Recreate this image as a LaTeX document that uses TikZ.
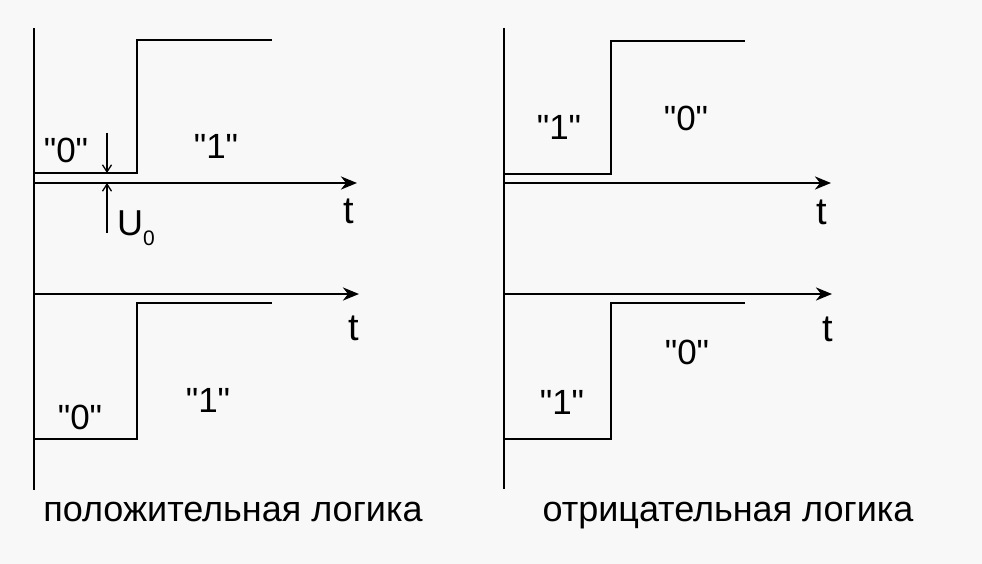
\documentclass[tikz,border=0pt]{standalone}
\usepackage{fontspec}
\setmainfont{Liberation Sans}
\newfontfamily\qfont{Liberation Sans}[Ligatures=TeXOff]
\usetikzlibrary{arrows.meta}
\definecolor{bgc}{HTML}{F8F8F8}
\newcommand\qlab[1]{{\qfont"#1"}}
\begin{document}
\begin{tikzpicture}[x=1pt,y=-1pt,
  axis/.style={line width=2.8pt},
  taxis/.style={line width=2.6pt,-{Stealth[length=16pt,width=13pt,inset=5pt]}},
  sig/.style={line width=2.2pt},
  lab/.style={font=\fontsize{35}{40}\selectfont, inner sep=0pt},
  tlab/.style={font=\fontsize{38}{42}\selectfont, inner sep=0pt},
  capt/.style={font=\fontsize{36}{42}\selectfont, inner sep=0pt, anchor=base},
  dim/.style={line width=1.3pt,-{Straight Barb[length=7pt,width=9pt]}}]
\fill[bgc] (0,0) rectangle (982,564);
\useasboundingbox (0,0) rectangle (982,564);

% ---------- left panel ----------
\coordinate (LAt) at (34,28);
\coordinate (LAb) at (34,490);
\draw[axis] (LAt) -- (LAb);

% upper
\coordinate (L1o) at (34,183);
\coordinate (L1e) at (357,183);
\draw[taxis] (L1o) -- (L1e);
\node[tlab] (Lt1) at (349,211) {t};
\coordinate (Ls1) at (34,173);
\coordinate (Ls2) at (137,173);
\coordinate (Ls3) at (137,40);
\coordinate (Ls4) at (272,40);
\draw[sig] (Ls1) -- (Ls2) -- (Ls3) -- (Ls4);
\node[lab] (L0a) at (66,150) {\qlab{0}};
\node[lab] (L1a) at (216,146) {\qlab{1}};
\coordinate (Ua) at (107,133);
\coordinate (Ub) at (107,173);
\coordinate (Uc) at (107,183);
\coordinate (Ud) at (107,233);
\draw[dim] (Ua) -- (Ub);
\draw[dim] (Ud) -- (Uc);
\node[capt,anchor=base west] (U0) at (117,235) {U\raisebox{-10pt}{\fontsize{21}{24}\selectfont 0}};

% lower
\coordinate (L2o) at (34,294);
\coordinate (L2e) at (359,294);
\draw[taxis] (L2o) -- (L2e);
\node[tlab] (Lt2) at (354,328) {t};
\coordinate (Lq1) at (272,303);
\coordinate (Lq2) at (137,303);
\coordinate (Lq3) at (137,439);
\coordinate (Lq4) at (34,439);
\draw[sig] (Lq1) -- (Lq2) -- (Lq3) -- (Lq4);
\node[lab] (L0b) at (80,417) {\qlab{0}};
\node[lab] (L1b) at (208,400) {\qlab{1}};

\node[capt] (Lcap) at (233,521) {положительная логика};

% ---------- right panel ----------
\coordinate (RAt) at (504,28);
\coordinate (RAb) at (504,489);
\draw[axis] (RAt) -- (RAb);

% upper
\coordinate (R1o) at (504,183);
\coordinate (R1e) at (831,183);
\draw[taxis] (R1o) -- (R1e);
\node[tlab] (Rt1) at (822,212) {t};
\coordinate (Rs1) at (504,174);
\coordinate (Rs2) at (611,174);
\coordinate (Rs3) at (611,41);
\coordinate (Rs4) at (745,41);
\draw[sig] (Rs1) -- (Rs2) -- (Rs3) -- (Rs4);
\node[lab] (R1a) at (559,127) {\qlab{1}};
\node[lab] (R0a) at (686,118) {\qlab{0}};

% lower
\coordinate (R2o) at (504,294);
\coordinate (R2e) at (832,294);
\draw[taxis] (R2o) -- (R2e);
\node[tlab] (Rt2) at (828,329) {t};
\coordinate (Rq1) at (745,303);
\coordinate (Rq2) at (611,303);
\coordinate (Rq3) at (611,439);
\coordinate (Rq4) at (504,439);
\draw[sig] (Rq1) -- (Rq2) -- (Rq3) -- (Rq4);
\node[lab] (R0b) at (687,352) {\qlab{0}};
\node[lab] (R1b) at (562,402) {\qlab{1}};

\node[capt] (Rcap) at (728,521) {отрицательная логика};
\end{tikzpicture}
\end{document}
